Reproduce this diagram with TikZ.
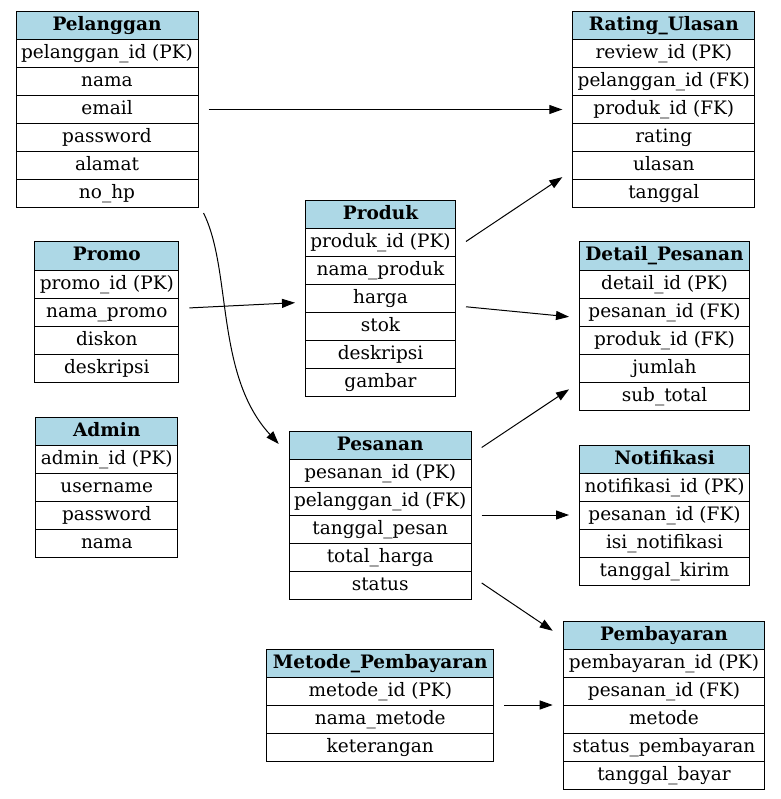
\documentclass[tikz,border=0pt]{standalone}
\usepackage{fontspec}
\setmainfont{DejaVu Serif}
\usetikzlibrary{arrows.meta,fit}
\definecolor{lightblue}{HTML}{ADD8E6}

\begin{document}
\begin{tikzpicture}[x=1pt,y=1pt,font=\fontsize{18.5pt}{22pt}\selectfont,
    field/.style={rectangle,draw=black,line width=1pt,anchor=north west,minimum height=28pt,inner sep=0pt,text height=14pt,text depth=4pt},
    head/.style={field,fill=lightblue,font=\fontsize{18.5pt}{22pt}\selectfont\bfseries},
    tbl/.style={inner sep=0pt,outer sep=10pt},
    rel/.style={line width=1pt,-{Triangle[length=13pt,width=9pt]}}]
      \useasboundingbox (0,0) rectangle (780,-799);

      %left column
      \node[head,minimum width=182pt] (pelanggan-0) at (15.5,-11) {Pelanggan};
      \foreach \f [count=\i] in {pelanggan\_id (PK),nama,email,password,alamat,no\_hp}
        \node[field,minimum width=182pt] (pelanggan-\i) at (15.5,{-11-28*\i}) {\f};
      \node[tbl,fit=(pelanggan-0)(pelanggan-6)] (pelanggan) {};

      \node[head,minimum width=144pt] (promo-0) at (34.3,-241.5) {Promo};
      \foreach \f [count=\i] in {promo\_id (PK),nama\_promo,diskon,deskripsi}
        \node[field,minimum width=144pt] (promo-\i) at (34.3,{-241.5-28*\i}) {\f};
      \node[tbl,fit=(promo-0)(promo-4)] (promo) {};

      \node[head,minimum width=142pt] (admin-0) at (35.3,-416.5) {Admin};
      \foreach \f [count=\i] in {admin\_id (PK),username,password,nama}
        \node[field,minimum width=142pt] (admin-\i) at (35.3,{-416.5-28*\i}) {\f};
      \node[tbl,fit=(admin-0)(admin-4)] (admin) {};

      %middle column
      \node[head,minimum width=150pt] (produk-0) at (305,-200) {Produk};
      \foreach \f [count=\i] in {produk\_id (PK),nama\_produk,harga,stok,deskripsi,gambar}
        \node[field,minimum width=150pt] (produk-\i) at (305,{-200-28*\i}) {\f};
      \node[tbl,fit=(produk-0)(produk-6)] (produk) {};

      \node[head,minimum width=182pt] (pesanan-0) at (288.7,-430.5) {Pesanan};
      \foreach \f [count=\i] in {pesanan\_id (PK),pelanggan\_id (FK),tanggal\_pesan,total\_harga,status}
        \node[field,minimum width=182pt] (pesanan-\i) at (288.7,{-430.5-28*\i}) {\f};
      \node[tbl,fit=(pesanan-0)(pesanan-5)] (pesanan) {};

      \node[head,minimum width=227pt] (metode-0) at (266.3,-648.5) {Metode\_Pembayaran};
      \foreach \f [count=\i] in {metode\_id (PK),nama\_metode,keterangan}
        \node[field,minimum width=227pt] (metode-\i) at (266.3,{-648.5-28*\i}) {\f};
      \node[tbl,fit=(metode-0)(metode-3)] (metode) {};

      %right column
      \node[head,minimum width=182pt] (rating-0) at (572.3,-11) {Rating\_Ulasan};
      \foreach \f [count=\i] in {review\_id (PK),pelanggan\_id (FK),produk\_id (FK),rating,ulasan,tanggal}
        \node[field,minimum width=182pt] (rating-\i) at (572.3,{-11-28*\i}) {\f};
      \node[tbl,fit=(rating-0)(rating-6)] (rating) {};

      \node[head,minimum width=170pt] (detail-0) at (579,-241.5) {Detail\_Pesanan};
      \foreach \f [count=\i] in {detail\_id (PK),pesanan\_id (FK),produk\_id (FK),jumlah,sub\_total}
        \node[field,minimum width=170pt] (detail-\i) at (579,{-241.5-28*\i}) {\f};
      \node[tbl,fit=(detail-0)(detail-5)] (detail) {};

      \node[head,minimum width=170pt] (notifikasi-0) at (579,-444.5) {Notifikasi};
      \foreach \f [count=\i] in {notifikasi\_id (PK),pesanan\_id (FK),isi\_notifikasi,tanggal\_kirim}
        \node[field,minimum width=170pt] (notifikasi-\i) at (579,{-444.5-28*\i}) {\f};
      \node[tbl,fit=(notifikasi-0)(notifikasi-4)] (notifikasi) {};

      \node[head,minimum width=201.6pt] (pembayaran-0) at (562.7,-620.5) {Pembayaran};
      \foreach \f [count=\i] in {pembayaran\_id (PK),pesanan\_id (FK),metode,status\_pembayaran,tanggal\_bayar}
        \node[field,minimum width=201.6pt] (pembayaran-\i) at (562.7,{-620.5-28*\i}) {\f};
      \node[tbl,fit=(pembayaran-0)(pembayaran-5)] (pembayaran) {};

      %relations
      \draw[rel] (pelanggan) -- (rating);
      \draw[rel] ([shift={(-5,5)}]pelanggan.south east) .. controls (232,-270) and (215,-375) .. (pesanan.145);
      \draw[rel] (promo) -- (produk);
      \draw[rel] (produk) -- (rating);
      \draw[rel] (produk) -- (detail);
      \draw[rel] (pesanan) -- (detail);
      \draw[rel] (pesanan) -- (notifikasi);
      \draw[rel] (pesanan) -- (pembayaran);
      \draw[rel] (metode) -- (pembayaran);

    \end{tikzpicture}
\end{document}
